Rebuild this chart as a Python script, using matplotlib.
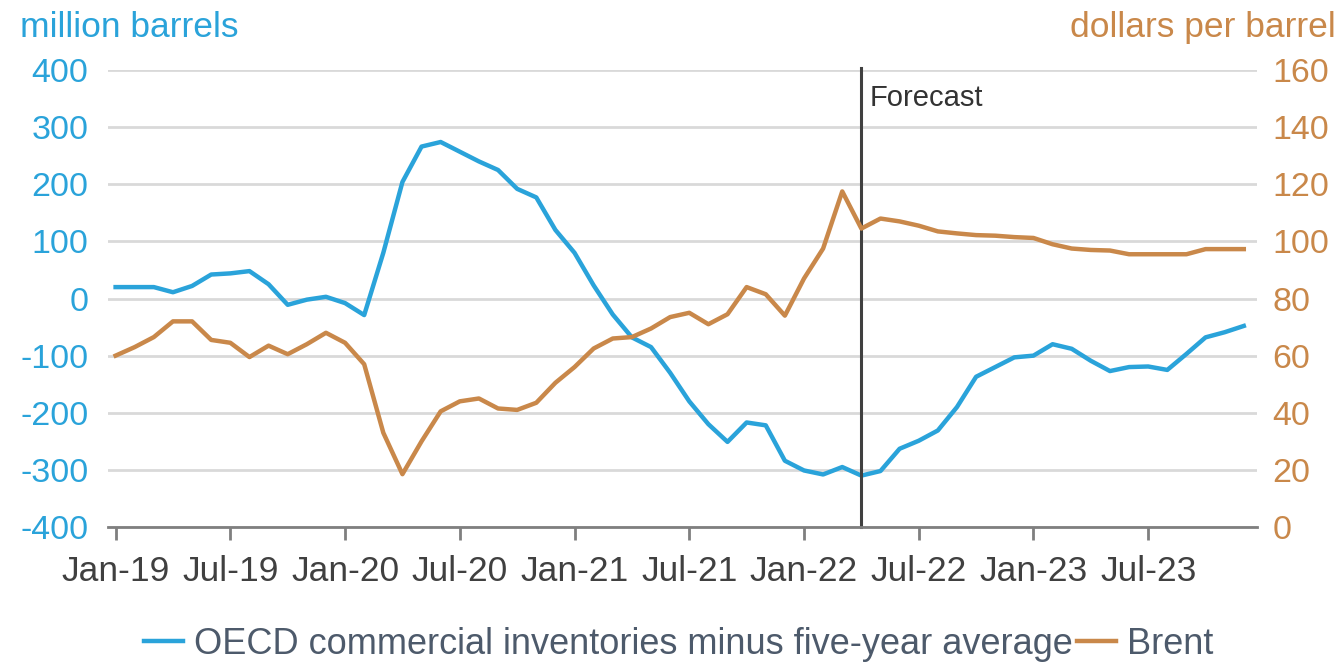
import numpy as np
import pandas as pd
import matplotlib
matplotlib.use('Agg')
import matplotlib.pyplot as plt

# Monthly data, Jan-19 .. Dec-23
meses = pd.date_range('2019-01-01', '2023-12-01', freq='MS')
etiquetas = [m.strftime('%b-%y') for m in meses]

inventarios = [20, 20, 20, 11, 22, 42, 44, 48, 25, -11, -2, 3,
               -8, -29, 80, 204, 266, 274, 257, 240, 225, 192, 177, 120,
               80, 23, -28, -68, -85, -130, -180, -220, -251, -217, -222, -284,
               -301, -308, -295, -310, -302, -263, -249, -231, -190, -137, -120, -103,
               -100, -80, -88, -109, -127, -120, -119, -125, -97, -68, -59, -48]

brent = [60, 63, 66.5, 72, 72, 65.5, 64.5, 59.5, 63.5, 60.5, 64, 68,
         64.5, 57, 33, 18.5, 30, 40.5, 44, 45, 41.5, 41, 43.5, 50.5,
         56, 62.5, 66, 66.5, 69.5, 73.5, 75, 71, 74.5, 84, 81.5, 74,
         87, 97.5, 117.5, 104.5, 108, 107, 105.5, 103.5, 102.8, 102.2, 102, 101.5,
         101.2, 99, 97.5, 97, 96.8, 95.5, 95.5, 95.5, 95.5, 97.3, 97.3, 97.3]

inicio_pronostico = 'Apr-22'

AZUL = '#2AA3DA'
NARANJA = '#C9884A'
GRIS = '#404040'

plt.rcParams['font.family'] = ['Liberation Sans', 'DejaVu Sans']
plt.rcParams['axes.unicode_minus'] = False

x = np.arange(len(meses))

fig = plt.figure(figsize=(13.41, 6.65), dpi=100)
ax = fig.add_axes([0.0805, 0.2075, 0.857, 0.6872])
ax2 = ax.twinx()

# Lines
l1, = ax.plot(x, inventarios, color=AZUL, lw=3.2, zorder=3,
              label='OECD commercial inventories minus five-year average')
l2, = ax2.plot(x, brent, color=NARANJA, lw=3.2, zorder=3, label='Brent')

# Forecast marker
xf = etiquetas.index(inicio_pronostico)
ax.axvline(xf, color=GRIS, lw=2.2, zorder=4, ymax=1.005, clip_on=False)
ax.text(xf + 0.45, 376, 'Forecast', fontsize=21, color='#333333', va='top', ha='left')

# Axes
ax.set_xlim(-0.4, 59.7)
ax.set_ylim(-400, 400)
ax2.set_ylim(0, 160)
ax.set_yticks(np.arange(-400, 401, 100))
ax2.set_yticks(np.arange(0, 161, 20))
ax.set_xticks(x[::6])
ax.set_xticklabels(etiquetas[::6])

ax.grid(axis='y', color='#D9D9D9', lw=2)
ax.set_axisbelow(True)
for s in ['top', 'left', 'right']:
    ax.spines[s].set_visible(False)
    ax2.spines[s].set_visible(False)
ax2.spines['bottom'].set_visible(False)
ax.spines['bottom'].set_color('#7F7F7F')
ax.spines['bottom'].set_linewidth(2)
ax.spines['bottom'].set_zorder(5)

ax.tick_params(axis='x', length=9, width=2, color='#7F7F7F', pad=11,
               labelsize=25.5, labelcolor=GRIS)
ax.tick_params(axis='y', length=0, pad=14, labelsize=24.5, labelcolor=AZUL)
ax2.tick_params(axis='y', length=0, pad=11, labelsize=24.5, labelcolor=NARANJA)

# Axis titles
fig.text(0.015, 0.944, 'million barrels', fontsize=25.5, color=AZUL, ha='left', va='baseline')
fig.text(0.996, 0.944, 'dollars per barrel', fontsize=25.5, color=NARANJA, ha='right', va='baseline')

# Legend
fig.legend(handles=[l1, l2], loc='lower center', bbox_to_anchor=(0.506, -0.044), ncol=2,
           frameon=False, fontsize=26, handlelength=1.1, handletextpad=0.3,
           columnspacing=0.1, labelcolor='#4D5A6B')

plt.savefig('out.png', dpi=100)
